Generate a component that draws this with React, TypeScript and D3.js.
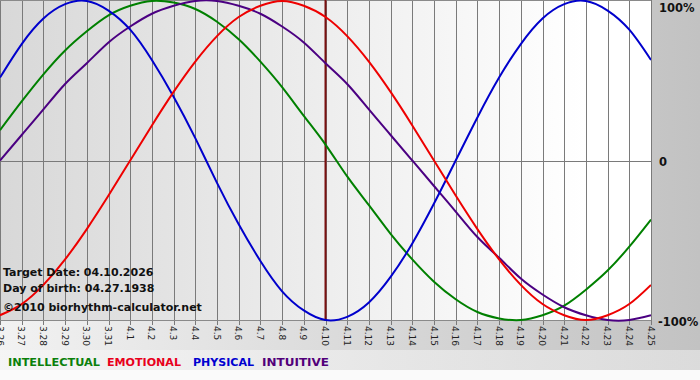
import React from "react";
import * as d3 from "d3";

const dayLabels = [
  "3.26", "3.27", "3.28", "3.29", "3.30", "3.31",
  "4.1", "4.2", "4.3", "4.4", "4.5", "4.6", "4.7", "4.8", "4.9", "4.10",
  "4.11", "4.12", "4.13", "4.14", "4.15", "4.16", "4.17", "4.18", "4.19", "4.20",
  "4.21", "4.22", "4.23", "4.24", "4.25",
];

const physical = [
  0.52, 0.73, 0.89, 0.98, 1.0, 0.94, 0.82, 0.63, 0.4, 0.14, -0.14, -0.4, -0.63, -0.82, -0.94, -1.0,
  -0.98, -0.89, -0.73, -0.52, -0.27, 0.0, 0.27, 0.52, 0.73, 0.89, 0.98, 1.0, 0.94, 0.82, 0.63,
];
const emotional = [
  -0.97, -0.9, -0.78, -0.62, -0.43, -0.22, 0.0, 0.22, 0.43, 0.62, 0.78, 0.9, 0.97, 1.0, 0.97, 0.9,
  0.78, 0.62, 0.43, 0.22, 0.0, -0.22, -0.43, -0.62, -0.78, -0.9, -0.97, -1.0, -0.97, -0.9, -0.78,
];
const intellectual = [
  0.19, 0.37, 0.54, 0.69, 0.81, 0.91, 0.97, 1.0, 0.99, 0.95, 0.87, 0.76, 0.62, 0.46, 0.28, 0.1,
  -0.1, -0.28, -0.46, -0.62, -0.76, -0.87, -0.95, -0.99, -1.0, -0.97, -0.91, -0.81, -0.69, -0.54, -0.37,
];
const intuitive = [
  0.0, 0.16, 0.32, 0.48, 0.61, 0.74, 0.84, 0.92, 0.97, 1.0, 1.0, 0.97, 0.92, 0.84, 0.74, 0.61,
  0.48, 0.32, 0.16, 0.0, -0.16, -0.32, -0.48, -0.61, -0.74, -0.84, -0.92, -0.97, -1.0, -1.0, -0.97,
];

const targetIndex = 15;
const yTicks = [
  { v: 1, label: "100%" },
  { v: 0, label: "0" },
  { v: -1, label: "-100%" },
];
const infoLines = ["Target Date: 04.10.2026", "Day of birth: 04.27.1938", "\u00a92010 biorhythm-calculator.net"];
const legendItems = [
  { label: "INTELLECTUAL", color: "#0b800b" },
  { label: "EMOTIONAL", color: "#e8001c" },
  { label: "PHYSICAL", color: "#0000d0" },
  { label: "INTUITIVE", color: "#52007a" },
];

const W = 700;
const H = 380;
const plotL = 0;
const plotR = 651;
const plotT = 1;
const plotB = 320;

export default function App() {
  const x = d3.scaleLinear().domain([0, dayLabels.length - 1]).range([plotL, plotR]);
  const y = d3.scaleLinear().domain([-1, 1]).range([plotB, plotT]);
  const line = d3
    .line<number>()
    .x((_, i) => x(i))
    .y((d) => y(d))
    .curve(d3.curveNatural);

  const series = [
    { data: intellectual, color: "#008000" },
    { data: intuitive, color: "#4b0082" },
    { data: physical, color: "#0000cc" },
    { data: emotional, color: "#ee0000" },
  ];

  const legendX = [8, 107, 193, 262];
  const legendW = [92, 74, 61, 67];
  const px = (v: number) => Math.round(v) + 0.5;
  const yLabelY = [12, 166, 326];

  return (
    <svg
      width={W}
      height={H}
      style={{ position: "absolute", left: 0, top: 0, display: "block" }}
      fontFamily="'DejaVu Sans', Verdana, sans-serif"
    >
      <defs>
        <linearGradient id="bgGrad" x1="0" y1="0" x2="1" y2="0">
          <stop offset="0" stopColor="#f2f2f2" />
          <stop offset="1" stopColor="#c2c2c2" />
        </linearGradient>
        <linearGradient id="plotGrad" x1="0" y1="0" x2="1" y2="0">
          <stop offset="0" stopColor="#d8d8d8" />
          <stop offset="0.9" stopColor="#ffffff" />
        </linearGradient>
        <linearGradient id="legGrad" x1="0" y1="0" x2="1" y2="0">
          <stop offset="0" stopColor="#f6f6f6" />
          <stop offset="1" stopColor="#e6e6e6" />
        </linearGradient>
        <clipPath id="plotClip">
          <rect x={plotL} y={0} width={plotR - plotL} height={plotB + 2} />
        </clipPath>
      </defs>
      <rect x={0} y={0} width={W} height={H} fill="url(#bgGrad)" />
      <rect x={0} y={350} width={W} height={20} fill="url(#legGrad)" opacity={0.7} />
      <rect x={0} y={370} width={W} height={10} fill="#fafafa" />
      <rect x={plotL} y={0} width={plotR - plotL} height={plotB + 1} fill="url(#plotGrad)" />

      {/* vertical grid */}
      {dayLabels.map((lab, i) => (
        <line key={"g" + lab} x1={px(x(i))} x2={px(x(i))} y1={0} y2={plotB + 5} stroke="#7a7a7a" strokeWidth={1} />
      ))}
      {/* horizontal lines */}
      <line x1={plotL} x2={plotR} y1={px(y(0))} y2={px(y(0))} stroke="#7a7a7a" />
      <line x1={plotL} x2={plotR} y1={0.5} y2={0.5} stroke="#8a8a8a" />
      <line x1={plotL} x2={plotR} y1={plotB + 0.5} y2={plotB + 0.5} stroke="#8a8a8a" />

      {/* target date */}
      <line
        x1={x(targetIndex)}
        x2={x(targetIndex)}
        y1={0}
        y2={plotB + 1}
        stroke="#7a1010"
        strokeWidth={2}
      />

      <g clipPath="url(#plotClip)">
        {series.map((s, k) => (
          <path key={k} d={line(s.data) || ""} fill="none" stroke={s.color} strokeWidth={2} />
        ))}
      </g>

      {/* info text */}
      {infoLines.map((t, i) => (
        <text key={t} x={3} y={[276, 292, 311][i]} fontSize={11} fontWeight="bold" fill="#111">
          {t}
        </text>
      ))}

      {/* x labels */}
      {dayLabels.map((lab, i) => (
        <text
          key={"l" + lab}
          transform={`translate(${x(i) - 3.5},${plotB + 6}) rotate(90)`}
          fontSize={9}
          fill="#222"
        >
          {lab}
        </text>
      ))}

      {/* y labels */}
      {yTicks.map((t, i) => (
        <text
          key={t.label}
          x={t.v < 0 ? 658 : 659}
          y={yLabelY[i]}
          fontSize={11.5}
          fontWeight="bold"
          fill="#111"
        >
          {t.label}
        </text>
      ))}

      {/* legend */}
      {legendItems.map((it, i) => (
        <text
          key={it.label}
          x={legendX[i]}
          y={366}
          fontSize={11}
          fontWeight="bold"
          fill={it.color}
          textLength={legendW[i]}
          lengthAdjust="spacingAndGlyphs"
        >
          {it.label}
        </text>
      ))}
    </svg>
  );
}
